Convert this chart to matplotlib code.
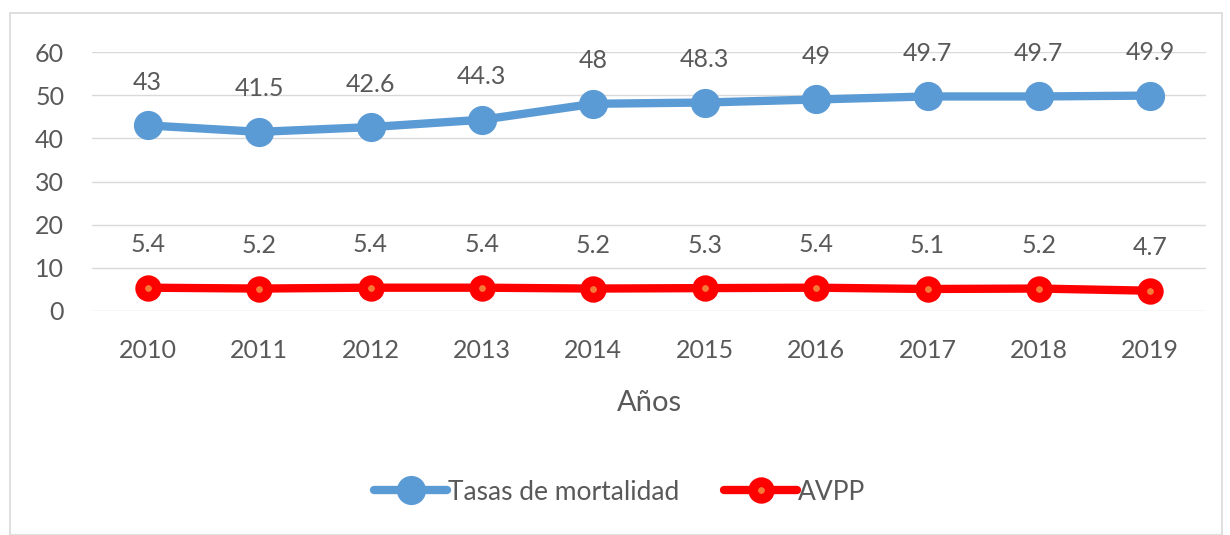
import matplotlib
matplotlib.use("Agg")
import matplotlib.pyplot as plt
from matplotlib.patches import Rectangle

years = ["2010", "2011", "2012", "2013", "2014", "2015", "2016", "2017", "2018", "2019"]
tasas = [43, 41.5, 42.6, 44.3, 48, 48.3, 49, 49.7, 49.7, 49.9]
avpp = [5.4, 5.2, 5.4, 5.4, 5.2, 5.3, 5.4, 5.1, 5.2, 4.7]
yticks = [0, 10, 20, 30, 40, 50, 60]

plt.rcParams['font.family'] = ['Lato', 'DejaVu Sans']
gray = '#595959'
blue = '#5b9bd5'
red = '#ff0000'

fig = plt.figure(figsize=(12.3, 5.35), dpi=100)
fig.patches.append(Rectangle((10/1230, 0), 1212/1230, 1 - 13/535, transform=fig.transFigure,
                             fill=False, edgecolor='#d9d9d9', linewidth=1.2))
ax = fig.add_axes([92/1230, 1 - 311/535, (1206-92)/1230, (311-52)/535])

x = list(range(len(years)))
ax.plot(x, tasas, color=blue, lw=6, marker='o', ms=20, mfc=blue, mec=blue,
        solid_capstyle='round', label='Tasas de mortalidad', zorder=3)
ax.plot(x, avpp, color=red, lw=6, marker='o', ms=12, mfc='#f47a3a', mec=red, mew=7,
        solid_capstyle='round', label='AVPP', zorder=3)

for xi, v in zip(x, tasas):
    ax.annotate(f"{v:g}", (xi, v), xytext=(0, 31), textcoords='offset points',
                ha='center', va='center', fontsize=18, color=gray)
for xi, v in zip(x, avpp):
    ax.annotate(f"{v:g}", (xi, v), xytext=(0, 31), textcoords='offset points',
                ha='center', va='center', fontsize=18, color=gray)

ax.set_xlim(-0.5, len(years) - 0.5)
ax.set_ylim(0, 60)
ax.set_yticks(yticks)
ax.set_xticks(x)
ax.set_xticklabels(years)
ax.tick_params(axis='both', length=0, labelsize=18, labelcolor=gray)
ax.tick_params(axis='x', pad=20)
ax.tick_params(axis='y', pad=20)
ax.grid(axis='y', color='#d9d9d9', lw=1)
ax.set_axisbelow(True)
for s in ax.spines.values():
    s.set_visible(False)
ax.set_xlabel('Años', fontsize=21, color=gray, labelpad=20)

leg = fig.legend(loc='center', bbox_to_anchor=(620/1230, 1 - 492/535), ncol=2, frameon=False,
                 fontsize=19, labelcolor=gray, handlelength=2.75, columnspacing=1.7,
                 handletextpad=0.05)

fig.savefig('out.png', dpi=100)
